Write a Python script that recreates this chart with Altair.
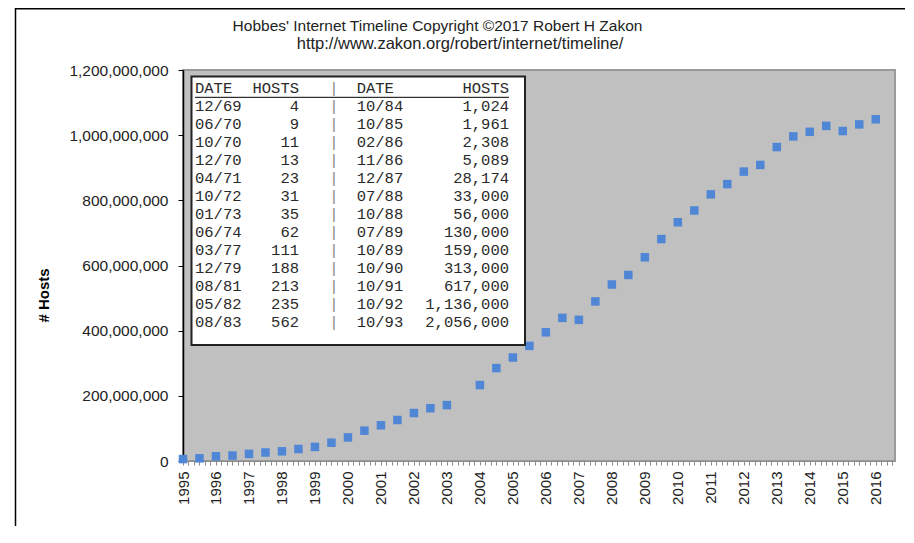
import altair as alt
import pandas as pd

# ---------------- data ----------------
periods = [
    "1995-01", "1995-07", "1996-01", "1996-07", "1997-01", "1997-07",
    "1998-01", "1998-07", "1999-01", "1999-07", "2000-01", "2000-07",
    "2001-01", "2001-07", "2002-01", "2002-07", "2003-01",
    "2004-01", "2004-07", "2005-01", "2005-07", "2006-01", "2006-07",
    "2007-01", "2007-07", "2008-01", "2008-07", "2009-01", "2009-07",
    "2010-01", "2010-07", "2011-01", "2011-07", "2012-01", "2012-07",
    "2013-01", "2013-07", "2014-01", "2014-07", "2015-01", "2015-07",
    "2016-01",
]
hosts = [
    5846000, 8200000, 14352000, 16729000, 21819000, 26053000,
    29670000, 36739000, 43230000, 56218000, 72398092, 93047785,
    109574429, 125888197, 147344723, 162128493, 171638297,
    233101481, 285139107, 317646084, 353284187, 394991609, 439286364,
    433193199, 489774269, 541677360, 570937778, 625226456, 681064561,
    732740444, 768913036, 818374269, 849869781, 888239420, 908585739,
    963518598, 996230757, 1010251829, 1028544414, 1012706742, 1033000000,
    1048766623,
]

y_ticks = [0, 200000000, 400000000, 600000000, 800000000, 1000000000, 1200000000]
year_first, year_last = 1995, 2016

tbl_header = ["DATE", "HOSTS", "|", "DATE", "HOSTS"]
tbl_date_a = ["12/69", "06/70", "10/70", "12/70", "04/71", "10/72", "01/73",
              "06/74", "03/77", "12/79", "08/81", "05/82", "08/83"]
tbl_hosts_a = [4, 9, 11, 13, 23, 31, 35, 62, 111, 188, 213, 235, 562]
tbl_date_b = ["10/84", "10/85", "02/86", "11/86", "12/87", "07/88", "10/88",
              "07/89", "10/89", "10/90", "10/91", "10/92", "10/93"]
tbl_hosts_b = [1024, 1961, 2308, 5089, 28174, 33000, 56000, 130000, 159000,
               313000, 617000, 1136000, 2056000]

title_lines = [
    "Hobbes' Internet Timeline Copyright \u00a92017 Robert H Zakon",
    "http://www.zakon.org/robert/internet/timeline/",
]
y_title = "# Hosts"

# ---------------- styles ----------------
FONT = "Liberation Sans, Arial, sans-serif"
MONO = "Liberation Mono, Courier New, monospace"
TXT = "#222222"
BLUE = "#4F86D6"

W, H = 712, 391

# ---------------- frames ----------------
df = pd.DataFrame({"period": periods, "hosts": hosts})
df["yr"] = df["period"].str.slice(0, 4).astype(int) + (df["period"].str.slice(5, 7).astype(int) - 1) / 12

x_ticks = [year_first + k / 6 for k in range((year_last - year_first) * 6 + 4)]

tab = pd.DataFrame({
    "row": list(range(0, 14)),
    "da": [tbl_header[0]] + tbl_date_a,
    "ha": [tbl_header[1]] + [f"{v:,}" for v in tbl_hosts_a],
    "sep": [tbl_header[2]] * 14,
    "db": [tbl_header[3]] + tbl_date_b,
    "hb": [tbl_header[4]] + [f"{v:,}" for v in tbl_hosts_b],
})
dummy = pd.DataFrame({"a": [0]})

# ---------------- main scatter ----------------
points = alt.Chart(df).mark_square(size=72, color=BLUE, opacity=1).encode(
    x=alt.X(
        "yr:Q",
        scale=alt.Scale(domain=[year_first, year_last + 7 / 12], nice=False, zero=False),
        axis=alt.Axis(
            values=x_ticks,
            labelExpr="datum.value % 1 === 0 ? format(datum.value, 'd') : ''",
            labelAngle=270, labelOverlap=False, labelFlush=False,
            tickSize=4, labelPadding=6, grid=False, title=None,
            domainColor="#8c8c8c", tickColor="#8c8c8c",
            labelFont=FONT, labelFontSize=15, labelColor=TXT,
        ),
    ),
    y=alt.Y(
        "hosts:Q",
        scale=alt.Scale(domain=[0, 1200000000], nice=False),
        axis=alt.Axis(
            values=y_ticks, format=",d", grid=False,
            tickSize=5, labelPadding=10,
            domainColor="#000000", tickColor="#000000", domainWidth=1.5,
            labelFont=FONT, labelFontSize=15.5, labelColor=TXT,
            title=y_title, titleFont=FONT, titleFontSize=15, titleFontWeight="bold",
            titleColor="#000000", titleX=-140, titleY=225,
            titleAlign="center", titleBaseline="middle",
        ),
    ),
)

# ---------------- inset table ----------------
row_scale = alt.Scale(domain=[1, 13], range=[36.3, 252], nice=False, zero=False)

box = alt.Chart(dummy).mark_rect(fill="white", stroke="#222222", strokeWidth=2).encode(
    x=alt.value(8.5), x2=alt.value(342), y=alt.value(6.5), y2=alt.value(275)
)

underline = alt.Chart(pd.DataFrame({"row": [0.5]})).mark_rule(color="#000000", strokeWidth=1).encode(
    x=alt.value(12), x2=alt.value(326),
    y=alt.Y("row:Q", scale=row_scale, axis=None),
)


def tcol(field, xpx, align, color="#2a2a2a"):
    return alt.Chart(tab).mark_text(
        font=MONO, fontSize=15.5, align=align, baseline="middle", color=color
    ).encode(
        x=alt.value(xpx),
        y=alt.Y("row:Q", scale=row_scale, axis=None),
        text=alt.Text(f"{field}:N"),
    )


col_da = tcol("da", 12, "left")
col_ha = tcol("ha", 116, "right")
col_sep = tcol("sep", 151, "center", "#8a8a8a")
col_db = tcol("db", 173.7, "left")
col_hb = tcol("hb", 326, "right")

# ---------------- titles ----------------
t1 = alt.Chart(dummy).mark_text(font=FONT, fontSize=15.5, color=TXT, align="center", baseline="alphabetic").encode(
    x=alt.value(254.5), y=alt.value(-39), text=alt.value(title_lines[0])
)
t2 = alt.Chart(dummy).mark_text(font=FONT, fontSize=16.5, color=TXT, align="center", baseline="alphabetic").encode(
    x=alt.value(277), y=alt.value(-21.5), text=alt.value(title_lines[1])
)

# ---------------- outer chart border ----------------
border_left = alt.Chart(dummy).mark_rule(color="#000000", strokeWidth=1.5).encode(
    x=alt.value(-167.5), y=alt.value(-62), y2=alt.value(456)
)
border_top = alt.Chart(dummy).mark_rule(color="#000000", strokeWidth=1.5).encode(
    x=alt.value(-167.5), x2=alt.value(W + 10), y=alt.value(-61.2)
)

chart = alt.layer(
    points, box, underline, col_da, col_ha, col_sep, col_db, col_hb,
    t1, t2, border_left, border_top,
).resolve_scale(y="independent").properties(
    width=W, height=H,
    autosize=alt.AutoSizeParams(type="none"),
    padding={"left": 175, "top": 62, "right": 10, "bottom": 65},
    background="white",
).configure_view(
    fill="#C0C0C0", stroke="#9a9a9a", strokeWidth=2
)

chart.save("out.html", embed_options={"renderer": "svg", "actions": False})
